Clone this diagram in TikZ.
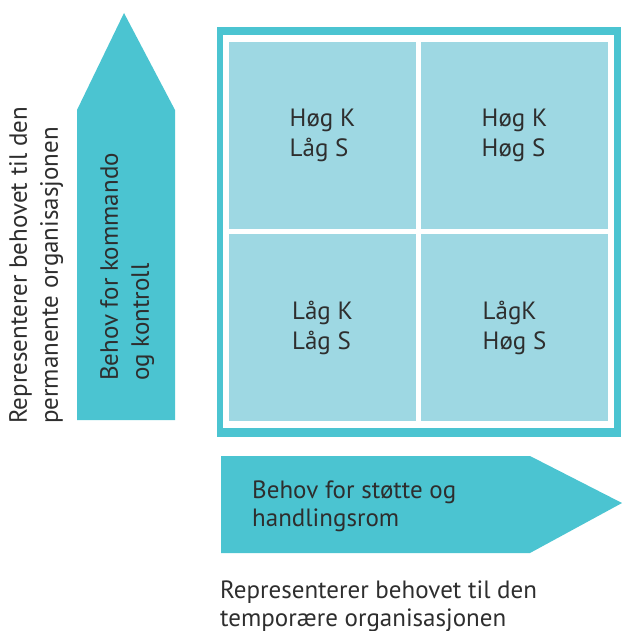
\documentclass[tikz,border=0pt]{standalone}
\usepackage{fontspec}
\setmainfont{PT Sans}
\definecolor{tealmain}{HTML}{4BC4D1}
\definecolor{cellblue}{HTML}{9ED8E3}
\definecolor{ink}{HTML}{2E2E2E}
\begin{document}
\begin{tikzpicture}[x=1pt,y=-1pt,
  txt/.style={text=ink,inner sep=0pt,align=left,font=\fontsize{25}{28}\selectfont},
  vtxt/.style={txt,rotate=90,font=\fontsize{25}{31}\selectfont},
  cell/.style={fill=cellblue,minimum width=187pt,minimum height=187pt,inner sep=0pt,
    text=ink,align=left,font=\fontsize{25}{30}\selectfont}]
\useasboundingbox (0,0) rectangle (622,631);

% vertical arrow (command and control)
\fill[tealmain] (77,420) -- (77,110) -- (124,13) -- (175,110) -- (175,420) -- cycle;
% horizontal arrow (support and room for action)
\fill[tealmain] (221,456) -- (530,456) -- (622,503) -- (530,553) -- (221,553) -- cycle;

% matrix frame
\fill[tealmain] (217,27) rectangle (621,437);
\fill[white] (223,35) rectangle (614,428);

% the four quadrants
\node[cell] (tl) at (322.5,135.5) {Høg K\\Låg S};
\node[cell] (tr) at (514.5,135.5) {Høg K\\Høg S};
\node[cell] (bl) at (322.5,327.5) {Låg K\\Låg S};
\node[cell] (br) at (514.5,327.5) {LågK\\Høg S};

% labels
\node[vtxt,anchor=north west] (upinner) at (100,381) {Behov for kommando\\og kontroll};
\node[vtxt,anchor=north west] (upouter) at (9,424) {Representerer behovet til den\\permanente organisasjonen};
\node[txt,anchor=north west] (rightinner) at (252,481) {Behov for støtte og\\handlingsrom};
\node[txt,anchor=north west] (rightouter) at (220,581) {Representerer behovet til den\\temporære organisasjonen};
\end{tikzpicture}
\end{document}
